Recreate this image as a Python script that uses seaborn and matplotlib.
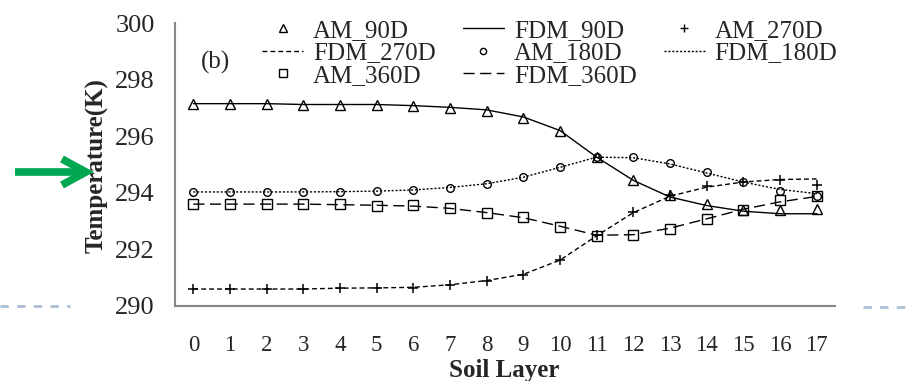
import matplotlib
matplotlib.use("Agg")
import matplotlib.pyplot as plt
import seaborn as sns
import numpy as np
import pandas as pd
from matplotlib.lines import Line2D
from matplotlib.ticker import FixedLocator

layers = list(range(18))
am_90 = [297.15, 297.15, 297.15, 297.1, 297.1, 297.1, 297.05, 296.98, 296.9, 296.65, 296.18, 295.26, 294.46, 293.91, 293.59, 293.4, 293.38, 293.43]
fdm_90 = [297.15, 297.15, 297.15, 297.12, 297.12, 297.12, 297.08, 297.02, 296.93, 296.68, 296.2, 295.26, 294.44, 293.85, 293.55, 293.35, 293.26, 293.26]
am_270 = [290.6, 290.6, 290.6, 290.6, 290.65, 290.65, 290.65, 290.74, 290.88, 291.09, 291.63, 292.5, 293.32, 293.91, 294.23, 294.39, 294.44, 294.26]
fdm_270 = [290.6, 290.6, 290.6, 290.6, 290.63, 290.64, 290.66, 290.75, 290.9, 291.12, 291.62, 292.48, 293.3, 293.88, 294.2, 294.38, 294.47, 294.49]
am_180 = [294.03, 294.03, 294.03, 294.03, 294.03, 294.06, 294.1, 294.18, 294.31, 294.55, 294.9, 295.26, 295.26, 295.05, 294.72, 294.39, 294.08, 293.9]
fdm_180 = [294.03, 294.03, 294.03, 294.03, 294.04, 294.06, 294.1, 294.19, 294.32, 294.55, 294.9, 295.26, 295.24, 295.02, 294.7, 294.38, 294.12, 293.97]
am_360 = [293.6, 293.6, 293.6, 293.6, 293.6, 293.53, 293.56, 293.45, 293.29, 293.13, 292.79, 292.46, 292.5, 292.73, 293.09, 293.4, 293.73, 293.9]
fdm_360 = [293.6, 293.6, 293.6, 293.6, 293.58, 293.56, 293.53, 293.45, 293.3, 293.12, 292.82, 292.5, 292.52, 292.75, 293.08, 293.42, 293.68, 293.87]
y_ticks = [290, 292, 294, 296, 298, 300]

sns.set_style("white")
plt.rcParams['font.family'] = ['Liberation Serif', 'DejaVu Serif']

W, H = 911, 381
fig = plt.figure(figsize=(W / 100, H / 100), dpi=100)
ax = fig.add_axes([175 / W, 1 - 306 / H, 660 / W, 283 / H])

LS = {
    'FDM_90D': '-',
    'FDM_270D': (0, (3.5, 2.2)),
    'FDM_180D': (0, (1.5, 1.3)),
    'FDM_360D': (0, (8, 4)),
}
lines = {'FDM_90D': fdm_90, 'FDM_270D': fdm_270, 'FDM_180D': fdm_180, 'FDM_360D': fdm_360}
for name, vals in lines.items():
    sns.lineplot(x=layers, y=vals, ax=ax, color='black', linewidth=1.0, linestyle=LS[name])

MK = {'AM_90D': ('^', 6.5), 'AM_270D': ('+', 6.5), 'AM_180D': ('o', 5.5), 'AM_360D': ('s', 6.5)}
points = {'AM_90D': am_90, 'AM_270D': am_270, 'AM_180D': am_180, 'AM_360D': am_360}
for name, vals in points.items():
    mk, ms = MK[name]
    if mk == '+':
        ax.plot(layers, vals, linestyle='none', marker=mk, markersize=ms,
                color='black', markeredgewidth=1.1)
    else:
        ax.plot(layers, vals, linestyle='none', marker=mk, markersize=ms,
                markerfacecolor='none', markeredgecolor='black', markeredgewidth=1.0)

ax.set_xlim(-0.5, 17.5)
ax.set_ylim(290, 300)
ax.set_yticks(y_ticks)
ax.set_xticks(layers)
ax.set_xticklabels([str(l) for l in layers], fontsize=16.5)
ax.xaxis.set_minor_locator(FixedLocator(np.arange(-0.5, 18, 1)))
ax.tick_params(axis='x', which='major', length=0, pad=21)
ax.tick_params(axis='x', which='minor', length=6, color='#868686', width=1.5, direction='out')
ax.tick_params(axis='y', which='major', length=5.5, color='#868686', width=1.5, direction='out',
               labelsize=19, pad=9)
for s in ['top', 'right']:
    ax.spines[s].set_visible(False)
for s in ['left', 'bottom']:
    ax.spines[s].set_color('#868686')
    ax.spines[s].set_linewidth(1.5)

ax.set_xlabel('Soil Layer', fontsize=18, fontweight='bold', va='center')
ax.xaxis.set_label_coords((504 - 175) / 660, (306 - 370) / 283)
ax.set_ylabel('Temperature(K)', fontsize=18, fontweight='bold', va='center')
ax.yaxis.set_label_coords((97 - 175) / 660, (306 - 166) / 283)

ax.text(0.6, 298.62, '(b)', fontsize=18, ha='center', va='center')

# legend (row-major order in a 3-column layout)
handles = {
    'AM_90D': Line2D([], [], linestyle='none', marker='^', markersize=6, markerfacecolor='none', markeredgecolor='black'),
    'FDM_90D': Line2D([], [], color='black', linewidth=1.0, linestyle=LS['FDM_90D']),
    'AM_270D': Line2D([], [], linestyle='none', marker='+', markersize=6, color='black'),
    'FDM_270D': Line2D([], [], color='black', linewidth=1.0, linestyle=LS['FDM_270D']),
    'AM_180D': Line2D([], [], linestyle='none', marker='o', markersize=4.5, markerfacecolor='none', markeredgecolor='black'),
    'FDM_180D': Line2D([], [], color='black', linewidth=1.0, linestyle=LS['FDM_180D']),
    'AM_360D': Line2D([], [], linestyle='none', marker='s', markersize=6, markerfacecolor='none', markeredgecolor='black'),
    'FDM_360D': Line2D([], [], color='black', linewidth=1.0, linestyle=LS['FDM_360D']),
}
order = ['AM_90D', 'FDM_270D', 'AM_360D', 'FDM_90D', 'AM_180D', 'FDM_360D', 'AM_270D', 'FDM_180D']
fig.legend([handles[k] for k in order], order, loc='upper left',
           bbox_to_anchor=(262 / W, 1 - 19.5 / H), ncol=3, frameon=False, fontsize=18,
           handlelength=1.64, handletextpad=0.4, columnspacing=1.08, labelspacing=0.0,
           borderpad=0, borderaxespad=0)

# decorations: green arrow and light-blue dashed lines
fig.add_artist(Line2D([0, 70 / W], [1 - 306 / H] * 2, color='#a9bfd6', linewidth=2,
                      linestyle=(0, (3, 3))))
fig.add_artist(Line2D([863 / W, 1], [1 - 307 / H] * 2, color='#a9bfd6', linewidth=2,
                      linestyle=(0, (3, 3))))
fig.add_artist(Line2D([15 / W, 86 / W], [1 - 172 / H] * 2, color='#00a651', linewidth=5.5,
                      solid_capstyle='butt'))
fig.add_artist(Line2D([62 / W, 86 / W, 62 / W], [1 - 159 / H, 1 - 172 / H, 1 - 185 / H],
                      color='#00a651', linewidth=5.5, solid_joinstyle='miter', solid_capstyle='butt'))

fig.savefig('out.png', dpi=100)
